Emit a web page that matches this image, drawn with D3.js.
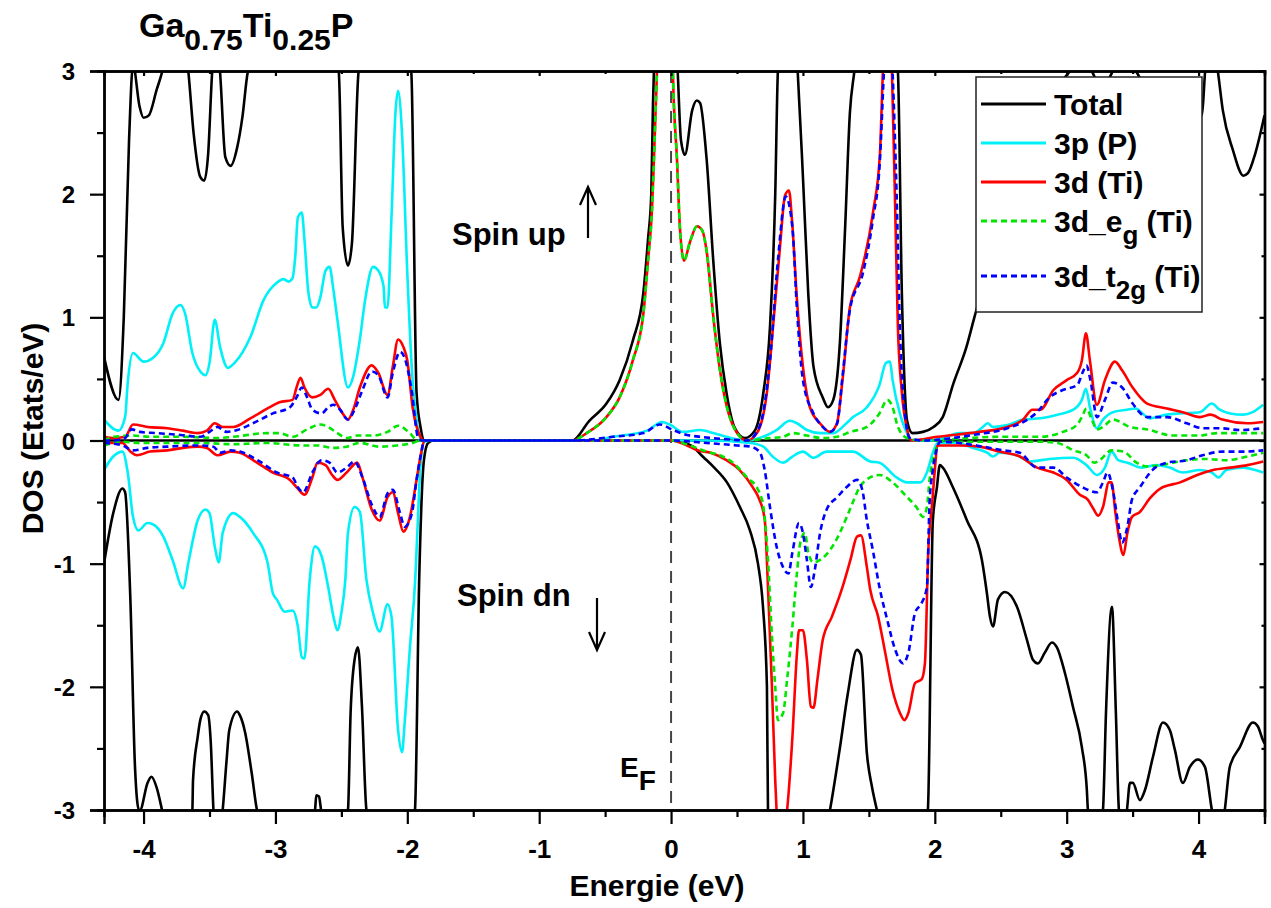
<!DOCTYPE html>
<html>
<head>
<meta charset="utf-8">
<script src="https://cdn.jsdelivr.net/npm/d3@7/dist/d3.min.js"></script>
<style>
	body { margin: 0; background: #fff; }
	text { font-family: "Liberation Sans", Arial, sans-serif; font-weight: bold; fill: #000; white-space: pre; }
</style>
</head>
<body>
<div id="chart"></div>
<script>
const width = 1271;
const height = 908;
const margin = { top: 71, right: 6.5, bottom: 98, left: 104 };

const xTicks = [-4, -3, -2, -1, 0, 1, 2, 3, 4];
const xMinorTicks = [-3.5, -2.5, -1.5, -0.5, 0.5, 1.5, 2.5, 3.5, 4.5];
const yTicks = [-3, -2, -1, 0, 1, 2, 3];
const yMinorTicks = [-2.5, -1.5, -0.5, 0.5, 1.5, 2.5];

const titleParts = [["Ga", false], ["0.75", true], ["Ti", false], ["0.25", true], ["P", false]];
const efParts = [["E", false], ["F", true]];
const legendLabels = [
	[["Total", false]],
	[["3p (P)", false]],
	[["3d (Ti)", false]],
	[["3d_e", false], ["g", true], [" (Ti)", false]],
	[["3d_t", false], ["2g", true], [" (Ti)", false]],
];

// [energy (eV), DOS (states/eV)]
const totalUp = [
	[-4.30, 0.68], [-4.19, 0.33], [-4.15, 1.00], [-4.11, 2.44], [-4.08, 3.05], [-4.03, 2.71], [-4.00, 2.62],
	[-3.96, 2.64], [-3.90, 2.85], [-3.86, 2.99], [-3.76, 3.6], [-3.66, 2.99], [-3.62, 2.49], [-3.57, 2.14],
	[-3.54, 2.11], [-3.51, 2.33], [-3.48, 2.99], [-3.45, 3.3], [-3.42, 2.99], [-3.38, 2.30], [-3.34, 2.23],
	[-3.29, 2.38], [-3.25, 2.63], [-3.21, 2.99], [-2.9, 3.8], [-2.52, 2.99], [-2.49, 1.73], [-2.45, 1.42],
	[-2.42, 1.60], [-2.37, 2.99], [-2.2, 3.8], [-1.97, 2.99], [-1.93, 0.39], [-1.90, 0.11], [-1.87, 0.0],
	[-0.75, 0.0], [-0.62, 0.16], [-0.49, 0.30], [-0.39, 0.49], [-0.29, 0.81], [-0.21, 1.20], [-0.175, 1.63],
	[-0.15, 2.0], [-0.137, 2.74], [-0.13, 3.0], [-0.04, 4.5], [0.05, 3.0], [0.075, 2.44], [0.105, 2.32],
	[0.16, 2.68], [0.195, 2.76], [0.22, 2.74], [0.27, 2.28], [0.32, 1.46], [0.37, 0.79], [0.42, 0.39],
	[0.48, 0.11], [0.56, 0.02], [0.635, 0.08], [0.70, 0.39], [0.75, 0.92], [0.79, 2.0], [0.81, 3.0],
	[0.88, 3.8], [0.96, 3.0], [1.0, 2.14], [1.04, 1.20], [1.08, 0.60], [1.15, 0.35], [1.19, 0.27],
	[1.23, 0.33], [1.28, 0.79], [1.32, 1.73], [1.356, 2.66], [1.39, 3.0], [1.55, 4.5], [1.72, 3.0],
	[1.75, 1.20], [1.79, 0.16], [1.83, 0.06], [1.91, 0.07], [1.99, 0.11], [2.06, 0.19], [2.14, 0.46],
	[2.24, 0.76], [2.30, 1.00], [2.57, 2.0], [2.95, 2.9], [3.025, 3.0], [3.11, 3.15], [3.19, 3.0],
	[3.27, 2.85], [3.35, 3.0], [3.44, 3.15], [3.525, 3.0], [3.78, 2.6], [4.025, 2.64], [4.05, 3.0],
	[4.10, 3.3], [4.146, 3.0], [4.184, 2.68], [4.26, 2.36], [4.34, 2.15], [4.374, 2.17], [4.43, 2.33],
	[4.50, 2.64],
];
const totalDown = [
	[-4.30, -1.00], [-4.23, -0.59], [-4.16, -0.39], [-4.14, -0.42], [-4.10, -1.29], [-4.065, -2.65],
	[-4.035, -3.0], [-4.027, -3.0], [-3.97, -2.78], [-3.94, -2.73], [-3.90, -2.82], [-3.86, -3.0],
	[-3.75, -3.6], [-3.63, -3.0], [-3.625, -2.76], [-3.59, -2.41], [-3.57, -2.27], [-3.54, -2.20],
	[-3.51, -2.23], [-3.49, -2.46], [-3.47, -3.0], [-3.44, -3.3], [-3.40, -3.0], [-3.37, -2.59],
	[-3.35, -2.35], [-3.29, -2.20], [-3.27, -2.23], [-3.23, -2.37], [-3.18, -2.70], [-3.14, -3.0],
	[-2.9, -3.6], [-2.70, -3.0], [-2.69, -2.88], [-2.67, -2.89], [-2.654, -3.0], [-2.56, -3.4],
	[-2.45, -3.0], [-2.43, -2.21], [-2.40, -1.78], [-2.374, -1.68], [-2.344, -2.16], [-2.31, -3.0],
	[-2.1, -3.8], [-1.942, -3.0], [-1.91, -1.13], [-1.874, -0.16], [-1.843, -0.02], [-1.8, 0.0],
	[0.0, 0.0], [0.07, -0.01], [0.166, -0.05], [0.24, -0.13], [0.318, -0.21], [0.424, -0.34],
	[0.522, -0.54], [0.598, -0.73], [0.659, -1.0], [0.697, -1.35], [0.727, -2.0], [0.735, -3.0],
	[0.95, -3.8], [1.205, -3.0], [1.281, -2.49], [1.341, -2.05], [1.409, -1.70], [1.44, -1.74],
	[1.485, -2.54], [1.523, -2.81], [1.561, -3.0], [1.75, -3.6], [1.947, -3.0], [1.985, -0.65],
	[2.016, -0.38], [2.038, -0.20], [2.061, -0.22], [2.137, -0.38], [2.244, -0.65], [2.357, -0.97],
	[2.395, -1.24], [2.418, -1.43], [2.441, -1.51], [2.479, -1.29], [2.532, -1.23], [2.623, -1.35],
	[2.699, -1.62], [2.744, -1.78], [2.782, -1.81], [2.835, -1.72], [2.888, -1.64], [2.926, -1.68],
	[2.987, -1.89], [3.047, -2.16], [3.115, -2.49], [3.153, -2.84], [3.161, -3.0], [3.22, -3.3],
	[3.275, -3.0], [3.298, -2.21], [3.343, -1.35], [3.373, -2.21], [3.396, -3.0], [3.43, -3.2],
	[3.457, -3.0], [3.48, -2.78], [3.502, -2.78], [3.555, -2.92], [3.593, -2.84], [3.654, -2.57],
	[3.730, -2.29], [3.782, -2.35], [3.820, -2.51], [3.881, -2.78], [3.934, -2.65], [3.995, -2.59],
	[4.048, -2.65], [4.101, -3.0], [4.16, -3.3], [4.199, -3.0], [4.237, -2.65], [4.313, -2.49],
	[4.412, -2.29], [4.449, -2.32], [4.487, -2.43], [4.50, -2.46],
];
const p3Up = [
	[-4.30, 0.17], [-4.19, 0.08], [-4.14, 0.19], [-4.12, 0.47], [-4.08, 0.71], [-4.00, 0.64], [-3.93, 0.67],
	[-3.85, 0.79], [-3.78, 1.03], [-3.72, 1.10], [-3.685, 1.03], [-3.63, 0.71], [-3.57, 0.56], [-3.53, 0.53],
	[-3.50, 0.63], [-3.46, 0.98], [-3.42, 0.76], [-3.36, 0.59], [-3.31, 0.63], [-3.19, 0.84], [-3.09, 1.14],
	[-2.99, 1.28], [-2.94, 1.31], [-2.90, 1.29], [-2.87, 1.32], [-2.85, 1.49], [-2.83, 1.81], [-2.80, 1.85],
	[-2.78, 1.63], [-2.75, 1.20], [-2.72, 1.08], [-2.69, 1.08], [-2.66, 1.16], [-2.62, 1.38], [-2.59, 1.41],
	[-2.56, 1.22], [-2.53, 0.98], [-2.45, 0.43], [-2.41, 0.52], [-2.36, 0.82], [-2.32, 1.14], [-2.26, 1.41],
	[-2.22, 1.38], [-2.18, 1.25], [-2.17, 1.08], [-2.15, 1.08], [-2.12, 1.81], [-2.09, 2.66], [-2.07, 2.84],
	[-2.04, 2.49], [-2.00, 1.36], [-1.965, 0.57], [-1.93, 0.17], [-1.89, 0.0], [-0.6, 0.0], [-0.44, 0.03],
	[-0.18, 0.08], [-0.07, 0.15], [-0.01, 0.13], [0.09, 0.07], [0.22, 0.085], [0.32, 0.06], [0.42, 0.03],
	[0.575, 0.0], [0.67, 0.02], [0.80, 0.085], [0.90, 0.16], [0.955, 0.14], [1.03, 0.085], [1.13, 0.06],
	[1.23, 0.06], [1.33, 0.14], [1.38, 0.19], [1.485, 0.27], [1.58, 0.45], [1.63, 0.63], [1.66, 0.64],
	[1.68, 0.49], [1.735, 0.22], [1.79, 0.06], [1.83, 0.0], [1.985, 0.0], [2.19, 0.06], [2.29, 0.06],
	[2.365, 0.11], [2.40, 0.14], [2.44, 0.11], [2.55, 0.125], [2.67, 0.17], [2.80, 0.18], [2.93, 0.21],
	[3.05, 0.25], [3.115, 0.33], [3.146, 0.42], [3.176, 0.27], [3.229, 0.10], [3.275, 0.17], [3.35, 0.23],
	[3.457, 0.25], [3.52, 0.26], [3.63, 0.18], [3.76, 0.21], [3.86, 0.22], [4.01, 0.23], [4.10, 0.30],
	[4.16, 0.25], [4.24, 0.22], [4.34, 0.21], [4.41, 0.23], [4.49, 0.29],
];
const p3Down = [
	[-4.30, -0.24], [-4.23, -0.13], [-4.16, -0.09], [-4.12, -0.26], [-4.08, -0.62], [-4.04, -0.73],
	[-3.97, -0.67], [-3.93, -0.68], [-3.85, -0.78], [-3.78, -0.97], [-3.70, -1.20], [-3.66, -0.99],
	[-3.59, -0.65], [-3.53, -0.56], [-3.50, -0.59], [-3.46, -0.86], [-3.43, -0.99], [-3.40, -0.75],
	[-3.32, -0.59], [-3.27, -0.62], [-3.17, -0.75], [-3.06, -0.99], [-3.02, -1.24], [-2.99, -1.29],
	[-2.93, -1.39], [-2.87, -1.38], [-2.83, -1.51], [-2.80, -1.76], [-2.78, -1.77], [-2.74, -1.13],
	[-2.70, -0.86], [-2.65, -0.94], [-2.60, -1.19], [-2.56, -1.43], [-2.53, -1.54], [-2.50, -1.40],
	[-2.47, -1.13], [-2.45, -0.75], [-2.40, -0.54], [-2.36, -0.58], [-2.31, -1.13], [-2.26, -1.40],
	[-2.21, -1.55], [-2.15, -1.33], [-2.12, -1.43], [-2.07, -2.35], [-2.04, -2.53], [-2.02, -2.29],
	[-1.98, -1.68], [-1.94, -1.13], [-1.92, -0.65], [-1.90, -0.20], [-1.87, -0.01], [-1.8, 0.0],
	[0.2, 0.0], [0.27, 0.0], [0.60, -0.02], [0.70, -0.05], [0.77, -0.13], [0.85, -0.18], [0.92, -0.13],
	[1.0, -0.09], [1.08, -0.14], [1.18, -0.09], [1.38, -0.09], [1.51, -0.17], [1.58, -0.18], [1.71, -0.30],
	[1.79, -0.34], [1.89, -0.34], [1.94, -0.26], [1.985, -0.10], [2.02, -0.02], [2.17, -0.02], [2.29, -0.06],
	[2.40, -0.10], [2.44, -0.13], [2.49, -0.10], [2.62, -0.12], [2.72, -0.17], [2.87, -0.15], [3.05, -0.14],
	[3.15, -0.20], [3.23, -0.28], [3.29, -0.22], [3.34, -0.09], [3.39, -0.16], [3.46, -0.18], [3.57, -0.22],
	[3.68, -0.20], [3.78, -0.22], [3.88, -0.26], [4.01, -0.24], [4.10, -0.26], [4.15, -0.30], [4.21, -0.24],
	[4.34, -0.22], [4.43, -0.24], [4.49, -0.26],
];
const d3Up = [
	[-4.30, 0.03], [-4.23, 0.02], [-4.14, 0.03], [-4.08, 0.13], [-3.97, 0.11], [-3.82, 0.10], [-3.70, 0.08],
	[-3.59, 0.06], [-3.52, 0.08], [-3.46, 0.14], [-3.40, 0.11], [-3.32, 0.11], [-3.19, 0.18], [-3.06, 0.26],
	[-2.97, 0.31], [-2.87, 0.33], [-2.84, 0.43], [-2.81, 0.51], [-2.78, 0.43], [-2.72, 0.35], [-2.66, 0.37],
	[-2.60, 0.42], [-2.55, 0.33], [-2.49, 0.22], [-2.45, 0.17], [-2.41, 0.25], [-2.36, 0.43], [-2.27, 0.61],
	[-2.22, 0.55], [-2.15, 0.37], [-2.11, 0.60], [-2.07, 0.82], [-2.03, 0.76], [-2.0, 0.65], [-1.96, 0.27],
	[-1.90, 0.03], [-1.87, 0.0], [-0.75, 0.0], [-0.64, 0.06], [-0.49, 0.19], [-0.39, 0.35], [-0.29, 0.65],
	[-0.21, 1.03], [-0.175, 1.46], [-0.145, 1.87], [-0.13, 2.28], [-0.107, 2.99], [-0.05, 4.2], [0.0, 4.0],
	[0.014, 2.99], [0.045, 2.28], [0.067, 1.73], [0.098, 1.46], [0.143, 1.61], [0.196, 1.74], [0.234, 1.71],
	[0.272, 1.52], [0.318, 1.03], [0.371, 0.57], [0.424, 0.27], [0.484, 0.09], [0.575, 0.0], [0.651, 0.06],
	[0.727, 0.39], [0.773, 0.92], [0.826, 1.57], [0.864, 1.99], [0.894, 2.03], [0.917, 1.79], [0.955, 1.14],
	[1.0, 0.60], [1.053, 0.27], [1.129, 0.14], [1.205, 0.07], [1.258, 0.14], [1.303, 0.52], [1.356, 1.08],
	[1.432, 1.33], [1.531, 1.85], [1.584, 2.33], [1.606, 2.99], [1.64, 3.6], [1.675, 2.99], [1.697, 2.01],
	[1.72, 0.92], [1.75, 0.39], [1.79, 0.09], [1.826, 0.0], [2.02, 0.03], [2.34, 0.07], [2.55, 0.11],
	[2.67, 0.17], [2.74, 0.25], [2.80, 0.25], [2.90, 0.41], [3.0, 0.49], [3.08, 0.55], [3.115, 0.65],
	[3.146, 0.87], [3.176, 0.65], [3.229, 0.29], [3.29, 0.49], [3.366, 0.64], [3.42, 0.57], [3.50, 0.43],
	[3.61, 0.30], [3.76, 0.26], [3.88, 0.23], [4.01, 0.19], [4.09, 0.21], [4.18, 0.17], [4.37, 0.14],
	[4.49, 0.15],
];
const d3Down = [
	[-4.30, -0.02], [-4.16, -0.02], [-4.10, -0.09], [-4.05, -0.12], [-3.95, -0.09], [-3.82, -0.08],
	[-3.70, -0.06], [-3.59, -0.05], [-3.52, -0.06], [-3.44, -0.12], [-3.34, -0.09], [-3.27, -0.10],
	[-3.14, -0.18], [-3.02, -0.26], [-2.89, -0.32], [-2.83, -0.39], [-2.78, -0.44], [-2.72, -0.30],
	[-2.68, -0.18], [-2.62, -0.20], [-2.57, -0.28], [-2.53, -0.32], [-2.46, -0.26], [-2.38, -0.18],
	[-2.34, -0.30], [-2.27, -0.56], [-2.21, -0.65], [-2.15, -0.46], [-2.11, -0.42], [-2.07, -0.59],
	[-2.03, -0.74], [-1.98, -0.62], [-1.93, -0.32], [-1.90, -0.13], [-1.87, 0.0], [0.0, 0.0],
	[0.12, -0.04], [0.20, -0.08], [0.30, -0.10], [0.42, -0.16], [0.52, -0.24], [0.62, -0.38], [0.67, -0.48],
	[0.71, -0.64], [0.735, -1.19], [0.765, -2.0], [0.79, -2.76], [0.80, -3.0], [0.83, -3.3], [0.88, -3.0],
	[0.92, -2.41], [0.955, -1.72], [0.97, -1.54], [1.0, -1.54], [1.03, -1.78], [1.06, -2.16], [1.08, -2.17],
	[1.11, -1.94], [1.15, -1.62], [1.22, -1.43], [1.30, -1.19], [1.36, -0.97], [1.41, -0.78], [1.44, -0.77],
	[1.485, -1.03], [1.51, -1.21], [1.57, -1.43], [1.62, -1.70], [1.68, -2.03], [1.735, -2.21], [1.77, -2.27],
	[1.80, -2.21], [1.85, -1.97], [1.90, -1.94], [1.925, -1.81], [1.95, -0.91], [1.98, -0.51], [2.0, -0.24],
	[2.02, -0.04], [2.19, -0.04], [2.34, -0.05], [2.49, -0.09], [2.645, -0.13], [2.775, -0.22], [2.90, -0.26],
	[3.0, -0.32], [3.10, -0.44], [3.16, -0.48], [3.20, -0.55], [3.24, -0.61], [3.275, -0.54], [3.32, -0.34],
	[3.34, -0.34], [3.37, -0.59], [3.40, -0.81], [3.43, -0.93], [3.46, -0.75], [3.495, -0.62], [3.555, -0.58],
	[3.63, -0.47], [3.71, -0.39], [3.86, -0.34], [3.99, -0.28], [4.11, -0.24], [4.24, -0.22], [4.37, -0.20],
	[4.49, -0.17],
];
const egUp = [
	[-4.30, 0.0], [-4.23, 0.03], [-4.08, 0.04], [-3.95, 0.03], [-3.70, 0.03], [-3.44, 0.02], [-3.32, 0.03],
	[-3.06, 0.06], [-2.97, 0.06], [-2.87, 0.03], [-2.76, 0.09], [-2.66, 0.13], [-2.60, 0.11], [-2.53, 0.06],
	[-2.46, 0.02], [-2.38, 0.04], [-2.26, 0.04], [-2.15, 0.07], [-2.07, 0.12], [-1.99, 0.07], [-1.92, 0.0],
	[-0.75, 0.0], [-0.64, 0.06], [-0.49, 0.19], [-0.39, 0.35], [-0.29, 0.65], [-0.21, 1.03], [-0.175, 1.46],
	[-0.145, 1.87], [-0.13, 2.28], [-0.107, 2.99], [-0.05, 4.2], [0.0, 4.0], [0.014, 2.99], [0.045, 2.28],
	[0.067, 1.73], [0.098, 1.46], [0.143, 1.61], [0.196, 1.74], [0.234, 1.71], [0.272, 1.52], [0.318, 1.03],
	[0.371, 0.57], [0.424, 0.27], [0.484, 0.09], [0.575, 0.0], [0.75, 0.02], [0.85, 0.03], [0.92, 0.06],
	[1.03, 0.04], [1.15, 0.02], [1.26, 0.03], [1.36, 0.07], [1.485, 0.11], [1.58, 0.22], [1.64, 0.33],
	[1.68, 0.27], [1.72, 0.11], [1.79, 0.02], [1.9, 0.0], [2.49, 0.03], [2.80, 0.03], [2.97, 0.07],
	[3.08, 0.13], [3.115, 0.19], [3.15, 0.26], [3.19, 0.17], [3.23, 0.09], [3.275, 0.11], [3.35, 0.17],
	[3.48, 0.11], [3.61, 0.09], [3.805, 0.04], [4.01, 0.04], [4.14, 0.06], [4.31, 0.06], [4.49, 0.06],
];
const egDown = [
	[-4.30, -0.04], [-4.16, -0.01], [-4.03, -0.02], [-3.82, -0.02], [-3.57, -0.02], [-3.32, -0.03],
	[-3.06, -0.02], [-2.81, -0.04], [-2.68, -0.04], [-2.56, -0.06], [-2.46, -0.05], [-2.36, -0.02],
	[-2.21, -0.05], [-2.08, -0.04], [-1.96, -0.02], [-1.90, 0.0], [0.0, 0.0], [0.14, -0.04], [0.27, -0.09],
	[0.37, -0.12], [0.47, -0.18], [0.575, -0.30], [0.66, -0.40], [0.70, -0.54], [0.735, -0.97],
	[0.765, -1.59], [0.79, -2.0], [0.81, -2.27], [0.85, -2.21], [0.88, -1.94], [0.92, -1.51], [0.955, -1.07],
	[0.98, -0.83], [1.015, -0.75], [1.04, -0.91], [1.08, -0.99], [1.13, -0.97], [1.205, -0.89], [1.28, -0.75],
	[1.356, -0.56], [1.43, -0.38], [1.51, -0.30], [1.58, -0.28], [1.68, -0.34], [1.79, -0.46], [1.86, -0.54],
	[1.91, -0.62], [1.94, -0.54], [1.96, -0.32], [2.0, -0.10], [2.04, -0.01], [2.80, -0.01], [2.93, -0.02],
	[3.05, -0.08], [3.15, -0.12], [3.21, -0.18], [3.25, -0.16], [3.34, -0.08], [3.43, -0.09], [3.53, -0.18],
	[3.61, -0.21], [3.71, -0.20], [3.805, -0.18], [3.91, -0.16], [4.06, -0.15], [4.21, -0.16], [4.37, -0.13],
	[4.49, -0.10],
];
const t2gUp = [
	[-4.30, 0.0], [-4.23, 0.0], [-4.14, 0.02], [-4.09, 0.09], [-4.03, 0.07], [-3.90, 0.06], [-3.72, 0.045],
	[-3.57, 0.03], [-3.50, 0.07], [-3.44, 0.11], [-3.37, 0.07], [-3.29, 0.085], [-3.17, 0.14], [-3.02, 0.22],
	[-2.89, 0.27], [-2.84, 0.35], [-2.80, 0.43], [-2.76, 0.35], [-2.72, 0.25], [-2.65, 0.22], [-2.60, 0.27],
	[-2.56, 0.29], [-2.51, 0.25], [-2.45, 0.17], [-2.40, 0.25], [-2.34, 0.41], [-2.27, 0.56], [-2.22, 0.53],
	[-2.15, 0.35], [-2.11, 0.55], [-2.055, 0.72], [-2.02, 0.67], [-1.965, 0.39], [-1.92, 0.03], [-1.89, 0.0],
	[-0.75, 0.0], [-0.44, 0.03], [-0.21, 0.06], [-0.084, 0.13], [0.014, 0.085], [0.12, 0.045], [0.22, 0.03],
	[0.42, 0.01], [0.575, 0.0], [0.67, 0.11], [0.75, 0.65], [0.81, 1.46], [0.87, 1.98], [0.92, 1.73],
	[0.955, 1.06], [1.0, 0.49], [1.08, 0.22], [1.15, 0.11], [1.205, 0.07], [1.26, 0.14], [1.30, 0.52],
	[1.356, 1.06], [1.455, 1.36], [1.53, 1.79], [1.584, 2.28], [1.614, 2.99], [1.65, 3.6], [1.68, 2.99],
	[1.71, 2.01], [1.735, 0.92], [1.77, 0.25], [1.81, 0.02], [1.9, 0.0], [2.29, 0.045], [2.55, 0.10],
	[2.67, 0.15], [2.775, 0.23], [2.87, 0.35], [2.97, 0.41], [3.08, 0.45], [3.12, 0.55], [3.15, 0.61],
	[3.18, 0.49], [3.23, 0.19], [3.29, 0.33], [3.35, 0.47], [3.42, 0.43], [3.50, 0.30], [3.61, 0.19],
	[3.76, 0.19], [3.91, 0.14], [4.03, 0.10], [4.16, 0.10], [4.31, 0.085], [4.49, 0.10],
];
const t2gDown = [
	[-4.30, -0.02], [-4.16, -0.04], [-4.08, -0.08], [-3.97, -0.06], [-3.82, -0.05], [-3.57, -0.04],
	[-3.47, -0.05], [-3.42, -0.10], [-3.34, -0.08], [-3.27, -0.09], [-3.12, -0.17], [-2.99, -0.26],
	[-2.87, -0.30], [-2.83, -0.38], [-2.79, -0.42], [-2.72, -0.26], [-2.65, -0.16], [-2.59, -0.18],
	[-2.53, -0.26], [-2.46, -0.22], [-2.40, -0.17], [-2.34, -0.30], [-2.27, -0.52], [-2.21, -0.62],
	[-2.15, -0.43], [-2.11, -0.40], [-2.055, -0.59], [-2.02, -0.70], [-1.965, -0.59], [-1.93, -0.32],
	[-1.90, -0.13], [-1.87, 0.0], [0.0, 0.0], [0.27, -0.02], [0.50, -0.04], [0.60, -0.05], [0.67, -0.09],
	[0.71, -0.24], [0.75, -0.54], [0.80, -0.86], [0.85, -1.03], [0.89, -1.08], [0.92, -0.91], [0.97, -0.67],
	[1.0, -0.75], [1.03, -0.97], [1.06, -1.19], [1.09, -1.05], [1.13, -0.75], [1.18, -0.56], [1.26, -0.46],
	[1.33, -0.38], [1.41, -0.32], [1.45, -0.40], [1.485, -0.65], [1.53, -0.89], [1.58, -1.19], [1.64, -1.46],
	[1.70, -1.70], [1.76, -1.81], [1.80, -1.72], [1.85, -1.40], [1.90, -1.32], [1.94, -1.19], [1.96, -0.51],
	[1.985, -0.24], [2.02, -0.05], [2.04, -0.01], [2.19, -0.02], [2.365, -0.05], [2.52, -0.08], [2.645, -0.10],
	[2.775, -0.22], [2.90, -0.22], [3.0, -0.30], [3.12, -0.38], [3.23, -0.42], [3.275, -0.34], [3.31, -0.26],
	[3.35, -0.40], [3.39, -0.67], [3.42, -0.83], [3.46, -0.70], [3.495, -0.48], [3.555, -0.38], [3.65, -0.24],
	[3.76, -0.18], [3.91, -0.16], [4.03, -0.12], [4.18, -0.09], [4.34, -0.09], [4.49, -0.08],
];

const seriesList = [
	{ up: totalUp, dn: totalDown, color: "#000000", dash: null },
	{ up: p3Up, dn: p3Down, color: "#00f0f8", dash: null },
	{ up: d3Up, dn: d3Down, color: "#ff0000", dash: null },
	{ up: egUp, dn: egDown, color: "#00e600", dash: "6,4" },
	{ up: t2gUp, dn: t2gDown, color: "#0000ff", dash: "6,4" },
];

function addParts(textSel, parts, size, subSize, shift) {
	let down = false;
	parts.forEach(([str, sub]) => {
		const dy = sub && !down ? shift : !sub && down ? -shift : 0;
		down = sub;
		textSel.append("tspan").attr("dy", dy).attr("font-size", sub ? subSize : size).text(str);
	});
}

function init() {
	const svg = d3
		.select("#chart")
		.append("svg")
		.attr("width", width)
		.attr("height", height);

	const x = d3.scaleLinear().domain([-4.3, 4.5]).range([margin.left, width - margin.right]);
	const y = d3.scaleLinear().domain([-3, 3]).range([height - margin.bottom, margin.top]);
	const x0 = margin.left;
	const x1 = width - margin.right;
	const y0 = height - margin.bottom;
	const y1 = margin.top;

	svg.append("clipPath")
		.attr("id", "plotClip")
		.append("rect")
		.attr("x", x0)
		.attr("y", y1)
		.attr("width", x1 - x0)
		.attr("height", y0 - y1);

	const plot = svg.append("g").attr("clip-path", "url(#plotClip)");

	// Fermi level and zero line
	plot.append("line")
		.attr("x1", x(0))
		.attr("x2", x(0))
		.attr("y1", y1)
		.attr("y2", y0)
		.attr("stroke", "#444")
		.attr("stroke-width", 2)
		.attr("stroke-dasharray", "12,8");
	plot.append("line")
		.attr("x1", x0)
		.attr("x2", x1)
		.attr("y1", y(0))
		.attr("y2", y(0))
		.attr("stroke", "#000")
		.attr("stroke-width", 2.6);

	const line = d3
		.line()
		.x((d) => x(d[0]))
		.y((d) => y(d[1]))
		.curve(d3.curveMonotoneX);

	seriesList.forEach((s) => {
		[s.up, s.dn].forEach((pts) => {
			plot.append("path")
				.attr("d", line(pts))
				.attr("fill", "none")
				.attr("stroke", s.color)
				.attr("stroke-width", 2.6)
				.attr("stroke-linejoin", "round")
				.attr("stroke-dasharray", s.dash);
		});
	});

	// axes: left/bottom with outward ticks, top/right mirrored with inward ticks
	const fmt = (d) => String(d);
	const bottomAxis = svg.append("g").attr("transform", `translate(0,${y0})`);
	bottomAxis.call(d3.axisBottom(x).tickValues(xMinorTicks).tickSize(7).tickFormat(""));
	bottomAxis.call((g) => g.append("g").call(d3.axisBottom(x).tickValues(xTicks).tickSize(14).tickFormat(fmt)));
	const leftAxis = svg.append("g").attr("transform", `translate(${x0},0)`);
	leftAxis.call(d3.axisLeft(y).tickValues(yMinorTicks).tickSize(7).tickFormat(""));
	leftAxis.call((g) => g.append("g").call(d3.axisLeft(y).tickValues(yTicks).tickSize(14).tickFormat(fmt)));
	const topAxis = svg.append("g").attr("transform", `translate(0,${y1})`);
	topAxis.call(d3.axisTop(x).tickValues(xMinorTicks).tickSize(-3).tickFormat(""));
	topAxis.call((g) => g.append("g").call(d3.axisTop(x).tickValues(xTicks).tickSize(-5).tickFormat("")));
	const rightAxis = svg.append("g").attr("transform", `translate(${x1},0)`);
	rightAxis.call(d3.axisRight(y).tickValues(yMinorTicks).tickSize(-3).tickFormat(""));
	rightAxis.call((g) => g.append("g").call(d3.axisRight(y).tickValues(yTicks).tickSize(-5).tickFormat("")));

	svg.selectAll(".domain").attr("stroke", "#000").attr("stroke-width", 2.4);
	svg.selectAll(".tick line").attr("stroke", "#000").attr("stroke-width", 2.2);
	bottomAxis.selectAll(".tick text")
		.attr("font-size", 26)
		.attr("font-family", null)
		.attr("dy", null)
		.attr("y", 48);
	leftAxis.selectAll(".tick text")
		.attr("font-size", 24)
		.attr("font-family", null)
		.attr("x", -29)
		.attr("dy", "0.36em");

	// axis titles
	svg.append("text")
		.attr("x", 657)
		.attr("y", 896)
		.attr("text-anchor", "middle")
		.attr("font-size", 30)
		.text("Energie (eV)");
	svg.append("text")
		.attr("transform", `translate(43,${(y0 + y1) / 2 - 12}) rotate(-90)`)
		.attr("text-anchor", "middle")
		.attr("font-size", 30)
		.text("DOS (Etats/eV)");

	// title
	addParts(svg.append("text").attr("x", 139).attr("y", 37), titleParts, 34, 30, 13);

	// annotations
	svg.append("text").attr("x", 452).attr("y", 245).attr("font-size", 31).text("Spin up");
	svg.append("text").attr("x", 457).attr("y", 606).attr("font-size", 31).text("Spin dn");
	addParts(svg.append("text").attr("x", 620).attr("y", 777), efParts, 28, 28, 13);

	const arrows = svg.append("g").attr("stroke", "#000").attr("stroke-width", 2.2).attr("fill", "none");
	arrows.append("path").attr("d", "M588,238V187M580,205L588,187L596,205");
	arrows.append("path").attr("d", "M597,598V650M589,632L597,650L605,632");

	// legend
	const legend = svg.append("g");
	legend.append("rect")
		.attr("x", 976)
		.attr("y", 77)
		.attr("width", 226)
		.attr("height", 235)
		.attr("fill", "#fff")
		.attr("stroke", "#222")
		.attr("stroke-width", 1.5);
	legendLabels.forEach((parts, i) => {
		const base = 115 + i * 39 + (i >= 4 ? 16 : 0);
		legend.append("line")
			.attr("x1", 981)
			.attr("x2", 1046)
			.attr("y1", base - 11)
			.attr("y2", base - 11)
			.attr("stroke", seriesList[i].color)
			.attr("stroke-width", 2.8)
			.attr("stroke-dasharray", seriesList[i].dash);
		addParts(legend.append("text").attr("x", 1054).attr("y", base), parts, 30, 26, 12);
	});
}

init();
</script>
</body>
</html>
